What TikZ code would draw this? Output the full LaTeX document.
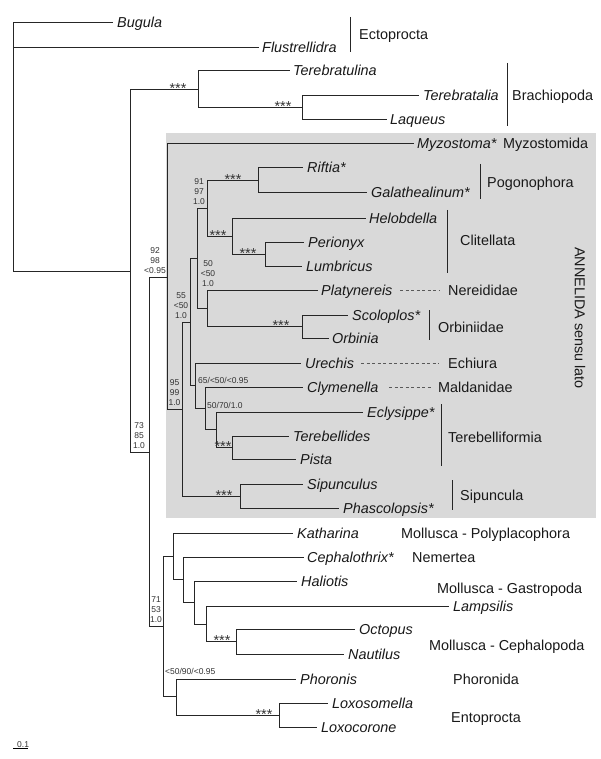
\documentclass[tikz,border=0pt]{standalone}
\usepackage{fontspec}
\setmainfont{Liberation Sans}
\begin{document}
\begin{tikzpicture}[x=1pt,y=-1pt,
  tree/.style={line width=1pt,draw=black!85,line cap=rect},
  bar/.style={line width=1pt,draw=black!85},
  dsh/.style={line width=0.6pt,draw=black!65,dash pattern=on 3pt off 2.5pt},
  taxon/.style={anchor=base west,inner sep=0pt,font=\fontsize{14.4}{16}\selectfont\itshape,text=black!90},
  grp/.style={anchor=base west,inner sep=0pt,font=\fontsize{14.4}{16}\selectfont,text=black!90},
  sup/.style={align=center,inner sep=0pt,font=\fontsize{8.5}{10}\selectfont,text=black!80},
  supl/.style={anchor=base west,inner sep=0pt,font=\fontsize{8.5}{10}\selectfont,text=black!80},
  stars/.style={anchor=base,inner sep=0pt,font=\fontsize{14.4}{16}\selectfont,text=black!80}]
\fill[white] (0,0) rectangle (600,759);
\useasboundingbox (0,0) rectangle (600,759);
% grey annelid box
\fill[black!15] (166,133) rectangle (596,518);
% internal nodes
\coordinate (root) at (13,147);
\coordinate (nA) at (130,271);
\coordinate (nBr) at (198,89.5);
\coordinate (nTL) at (302,108);
\coordinate (nB) at (149,452);
\coordinate (nAnn) at (167,277);
\coordinate (n95) at (182,409);
\coordinate (n55) at (190,322);
\coordinate (n50) at (197,258);
\coordinate (n91) at (207,208.5);
\coordinate (nPog) at (258,180.5);
\coordinate (nCl) at (232,236);
\coordinate (nPL) at (265,254);
\coordinate (nPO) at (207,308);
\coordinate (nOrb) at (302,326.5);
\coordinate (n65) at (195,385.5);
\coordinate (n5070) at (205,408);
\coordinate (nTer) at (216,429.5);
\coordinate (nTP) at (232,447.5);
\coordinate (nSip) at (240,496);
\coordinate (nC) at (163,626);
\coordinate (nK) at (173,556.5);
\coordinate (nCe) at (183,579.5);
\coordinate (nHa) at (194,602.5);
\coordinate (nLa) at (206,624);
\coordinate (nOc) at (236,641.5);
\coordinate (nPh) at (176,696.5);
\coordinate (nLox) at (279,715);
% tips
\coordinate (tBug) at (112,23);
\coordinate (tFlu) at (258,48);
\coordinate (tTla) at (289,71);
\coordinate (tTta) at (418,96);
\coordinate (tLaq) at (386,120);
\coordinate (tMyz) at (413,144);
\coordinate (tRif) at (302,168);
\coordinate (tGal) at (366,193);
\coordinate (tHel) at (365,218);
\coordinate (tPer) at (303,242);
\coordinate (tLum) at (301,266);
\coordinate (tPla) at (317,290);
\coordinate (tSco) at (347,315);
\coordinate (tOrb) at (328,338);
\coordinate (tUre) at (300,363);
\coordinate (tCly) at (302,387);
\coordinate (tEcl) at (362,412);
\coordinate (tTbd) at (288,436);
\coordinate (tPis) at (295,459);
\coordinate (tSpu) at (302,484);
\coordinate (tPha) at (338,508);
\coordinate (tKat) at (292,533);
\coordinate (tCep) at (303,557);
\coordinate (tHal) at (296,581);
\coordinate (tLam) at (448,606);
\coordinate (tOct) at (354,629);
\coordinate (tNau) at (343,654);
\coordinate (tPho) at (295,679);
\coordinate (tLxs) at (327,703);
\coordinate (tLxc) at (316,727);
% branches
\draw[tree] (root) |- (tBug);
\draw[tree] (root) |- (tFlu);
\draw[tree] (root) |- (nA);
\draw[tree] (nA) |- (nBr);
\draw[tree] (nA) |- (nB);
\draw[tree] (nBr) |- (tTla);
\draw[tree] (nBr) |- (nTL);
\draw[tree] (nTL) |- (tTta);
\draw[tree] (nTL) |- (tLaq);
\draw[tree] (nB) |- (nAnn);
\draw[tree] (nB) |- (nC);
\draw[tree] (nAnn) |- (tMyz);
\draw[tree] (nAnn) |- (n95);
\draw[tree] (n95) |- (n55);
\draw[tree] (n95) |- (nSip);
\draw[tree] (n55) |- (n50);
\draw[tree] (n55) |- (n65);
\draw[tree] (n50) |- (n91);
\draw[tree] (n50) |- (nPO);
\draw[tree] (n91) |- (nPog);
\draw[tree] (n91) |- (nCl);
\draw[tree] (nPog) |- (tRif);
\draw[tree] (nPog) |- (tGal);
\draw[tree] (nCl) |- (tHel);
\draw[tree] (nCl) |- (nPL);
\draw[tree] (nPL) |- (tPer);
\draw[tree] (nPL) |- (tLum);
\draw[tree] (nPO) |- (tPla);
\draw[tree] (nPO) |- (nOrb);
\draw[tree] (nOrb) |- (tSco);
\draw[tree] (nOrb) |- (tOrb);
\draw[tree] (n65) |- (tUre);
\draw[tree] (n65) |- (n5070);
\draw[tree] (n5070) |- (tCly);
\draw[tree] (n5070) |- (nTer);
\draw[tree] (nTer) |- (tEcl);
\draw[tree] (nTer) |- (nTP);
\draw[tree] (nTP) |- (tTbd);
\draw[tree] (nTP) |- (tPis);
\draw[tree] (nSip) |- (tSpu);
\draw[tree] (nSip) |- (tPha);
\draw[tree] (nC) |- (nK);
\draw[tree] (nC) |- (nPh);
\draw[tree] (nK) |- (tKat);
\draw[tree] (nK) |- (nCe);
\draw[tree] (nCe) |- (tCep);
\draw[tree] (nCe) |- (nHa);
\draw[tree] (nHa) |- (tHal);
\draw[tree] (nHa) |- (nLa);
\draw[tree] (nLa) |- (tLam);
\draw[tree] (nLa) |- (nOc);
\draw[tree] (nOc) |- (tOct);
\draw[tree] (nOc) |- (tNau);
\draw[tree] (nPh) |- (tPho);
\draw[tree] (nPh) |- (nLox);
\draw[tree] (nLox) |- (tLxs);
\draw[tree] (nLox) |- (tLxc);
% taxa
\node[taxon] (bug) at (117,28) {Bugula};
\node[taxon] (flu) at (262,53) {Flustrellidra};
\node[taxon] (tla) at (293,76) {Terebratulina};
\node[taxon] (tta) at (423,101) {Terebratalia};
\node[taxon] (laq) at (390,125) {Laqueus};
\node[taxon] (myz) at (417,149) {Myzostoma*};
\node[taxon] (rif) at (307,173) {Riftia*};
\node[taxon] (gal) at (371,198) {Galathealinum*};
\node[taxon] (hel) at (369,223) {Helobdella};
\node[taxon] (per) at (308,247) {Perionyx};
\node[taxon] (lum) at (306,271) {Lumbricus};
\node[taxon] (pla) at (321,295) {Platynereis};
\node[taxon] (sco) at (352,320) {Scoloplos*};
\node[taxon] (orb) at (332,343) {Orbinia};
\node[taxon] (ure) at (305,368) {Urechis};
\node[taxon] (cly) at (307,392) {Clymenella};
\node[taxon] (ecl) at (367,417) {Eclysippe*};
\node[taxon] (tbd) at (293,441) {Terebellides};
\node[taxon] (pis) at (300,464) {Pista};
\node[taxon] (spu) at (307,489) {Sipunculus};
\node[taxon] (pha) at (343,513) {Phascolopsis*};
\node[taxon] (kat) at (297,538) {Katharina};
\node[taxon] (cep) at (307,562) {Cephalothrix*};
\node[taxon] (hal) at (301,586) {Haliotis};
\node[taxon] (lam) at (453,611) {Lampsilis};
\node[taxon] (oct) at (359,634) {Octopus};
\node[taxon] (nau) at (348,659) {Nautilus};
\node[taxon] (pho) at (300,684) {Phoronis};
\node[taxon] (lxs) at (332,708) {Loxosomella};
\node[taxon] (lxc) at (321,732) {Loxocorone};
% group bars
\coordinate (ectT) at (350,17); \coordinate (ectB) at (350,52);
\coordinate (braT) at (507,63); \coordinate (braB) at (507,126);
\coordinate (pogT) at (480,164); \coordinate (pogB) at (480,199);
\coordinate (cliT) at (447,210); \coordinate (cliB) at (447,273);
\coordinate (orbT) at (429,310); \coordinate (orbB) at (429,340);
\coordinate (terT) at (441,404); \coordinate (terB) at (441,466);
\coordinate (sipT) at (452,480); \coordinate (sipB) at (452,510);
\draw[bar] (ectT) -- (ectB);
\draw[bar] (braT) -- (braB);
\draw[bar] (pogT) -- (pogB);
\draw[bar] (cliT) -- (cliB);
\draw[bar] (orbT) -- (orbB);
\draw[bar] (terT) -- (terB);
\draw[bar] (sipT) -- (sipB);
% group labels
\node[grp] (gEct) at (359,40) {Ectoprocta};
\node[grp] (gBra) at (512,101) {Brachiopoda};
\node[grp] (gMyz) at (503,149) {Myzostomida};
\node[grp] (gPog) at (487,188) {Pogonophora};
\node[grp] (gCli) at (460,245) {Clitellata};
\node[grp] (gNer) at (448,295) {Nereididae};
\node[grp] (gOrb) at (438,332) {Orbiniidae};
\node[grp] (gEch) at (448,368) {Echiura};
\node[grp] (gMal) at (438,392) {Maldanidae};
\node[grp] (gTer) at (448,442) {Terebelliformia};
\node[grp] (gSip) at (460,500) {Sipuncula};
\node[grp] (gPol) at (401,538) {Mollusca - Polyplacophora};
\node[grp] (gNem) at (412,562) {Nemertea};
\node[grp] (gGas) at (437,593) {Mollusca - Gastropoda};
\node[grp] (gCph) at (429,650) {Mollusca - Cephalopoda};
\node[grp] (gPho) at (453,684) {Phoronida};
\node[grp] (gEnt) at (451,722) {Entoprocta};
\node[font=\fontsize{14.4}{16}\selectfont,text=black!90,rotate=-90,inner sep=0pt] (ann) at (580,318) {ANNELIDA sensu lato};
% dashed connectors
\coordinate (dPa) at (400,290); \coordinate (dPb) at (440,290);
\coordinate (dUa) at (361,363); \coordinate (dUb) at (439,363);
\coordinate (dCa) at (389,387); \coordinate (dCb) at (432,387);
\draw[dsh] (dPa) -- (dPb);
\draw[dsh] (dUa) -- (dUb);
\draw[dsh] (dCa) -- (dCb);
% support values
\node[sup] (s1) at (155,261) {92\\98\\<0.95};
\node[sup] (s2) at (199,192) {91\\97\\1.0};
\node[sup] (s3) at (208,274) {50\\<50\\1.0};
\node[sup] (s4) at (181,306) {55\\<50\\1.0};
\node[sup] (s5) at (174.5,393) {95\\99\\1.0};
\node[sup] (s6) at (139,436) {73\\85\\1.0};
\node[sup] (s7) at (156,610) {71\\53\\1.0};
\node[supl] (s8) at (198,383) {65/<50/<0.95};
\node[supl] (s9) at (207,408) {50/70/1.0};
\node[supl] (s10) at (165,674) {<50/90/<0.95};
% stars
\node[stars] (st1) at (178,93.5) {***};
\node[stars] (st2) at (283,112) {***};
\node[stars] (st3) at (233,185) {***};
\node[stars] (st4) at (218,240) {***};
\node[stars] (st5) at (248,258) {***};
\node[stars] (st6) at (281,330.5) {***};
\node[stars] (st7) at (223,451.5) {***};
\node[stars] (st8) at (224,500) {***};
\node[stars] (st9) at (222,645.5) {***};
\node[stars] (st10) at (264,719) {***};
% scale bar
\coordinate (sbA) at (13,748); \coordinate (sbB) at (28,748);
\draw[line width=0.6pt] (sbA) -- (sbB);
\node[supl] (sbl) at (17,747) {0.1};
\end{tikzpicture}
\end{document}
